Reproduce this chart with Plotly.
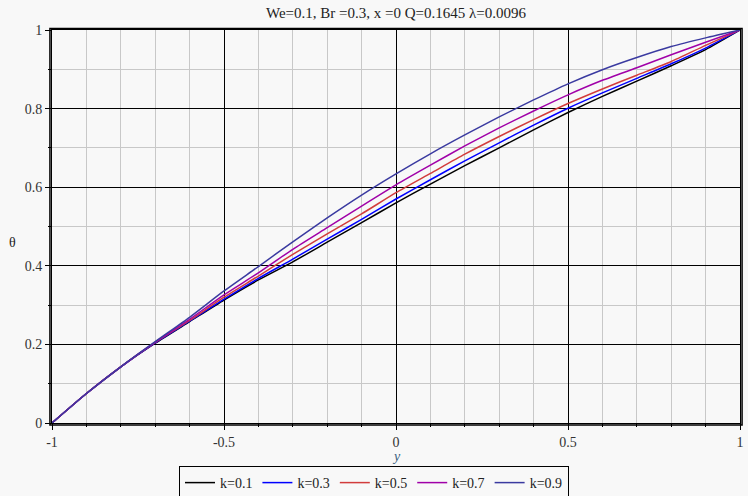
import plotly.graph_objects as go

y_vals = [-1.0, -0.9, -0.8, -0.7, -0.6, -0.5, -0.4, -0.3, -0.2, -0.1, 0.0,
          0.1, 0.2, 0.3, 0.4, 0.5, 0.6, 0.7, 0.8, 0.9, 1.0]
theta_k01 = [0.0, 0.075, 0.143, 0.203, 0.258, 0.313, 0.364, 0.410, 0.460, 0.510, 0.560,
             0.608, 0.655, 0.700, 0.746, 0.790, 0.831, 0.870, 0.909, 0.950, 1.0]
theta_k03 = [0.0, 0.075, 0.143, 0.204, 0.259, 0.315, 0.368, 0.417, 0.468, 0.518, 0.570,
             0.619, 0.667, 0.713, 0.758, 0.801, 0.840, 0.877, 0.914, 0.954, 1.0]
theta_k05 = [0.0, 0.075, 0.143, 0.205, 0.261, 0.320, 0.374, 0.429, 0.481, 0.532, 0.586,
             0.635, 0.684, 0.729, 0.772, 0.813, 0.850, 0.885, 0.920, 0.961, 1.0]
theta_k07 = [0.0, 0.075, 0.143, 0.206, 0.264, 0.326, 0.382, 0.442, 0.497, 0.552, 0.606,
             0.656, 0.705, 0.751, 0.794, 0.835, 0.872, 0.904, 0.937, 0.969, 1.0]
theta_k09 = [0.0, 0.075, 0.143, 0.207, 0.269, 0.336, 0.398, 0.461, 0.522, 0.580, 0.634,
             0.685, 0.733, 0.779, 0.822, 0.863, 0.899, 0.930, 0.958, 0.980, 1.0]

series_names = ["k=0.1", "k=0.3", "k=0.5", "k=0.7", "k=0.9"]
series_colors = ["#000000", "#0000ff", "#d23c3c", "#a000a8", "#3a3aa0"]
series_data = [theta_k01, theta_k03, theta_k05, theta_k07, theta_k09]

x_tickvals = [-1, -0.5, 0, 0.5, 1]
x_ticktext = ["-1", "-0.5", "0", "0.5", "1"]
y_tickvals = [0, 0.2, 0.4, 0.6, 0.8, 1]
y_ticktext = ["0", "0.2", "0.4", "0.6", "0.8", "1"]
x_minor = [round(-1 + 0.1 * i, 1) for i in range(21)]
y_minor = [round(0.1 * i, 1) for i in range(11)]

title_text = "We=0.1, Br =0.3, x =0 Q=0.1645 λ=0.0096"

fig = go.Figure()
for name, col, data in zip(series_names, series_colors, series_data):
    fig.add_trace(go.Scatter(x=y_vals, y=data, mode="lines", name=name,
                             line=dict(color=col, width=1.5, shape="spline", smoothing=0.6)))

serif = "Liberation Serif, Times New Roman, serif"
bg = "#f8f8f8"

fig.update_layout(
    width=748, height=496,
    margin=dict(l=52, r=8, t=30, b=73, autoexpand=False),
    paper_bgcolor=bg, plot_bgcolor=bg,
    font=dict(family=serif, size=14, color="#222"),
    showlegend=True,
    legend=dict(orientation="h", xref="container", yref="container",
                x=0.5, xanchor="center", y=1 - 466 / 496, yanchor="top",
                bordercolor="#000", borderwidth=1, bgcolor=bg,
                font=dict(family=serif, size=14, color="#222"),
                itemwidth=30, tracegroupgap=0),
    xaxis=dict(range=[-1, 1], tickmode="array", tickvals=x_tickvals, ticktext=x_ticktext,
               showgrid=True, gridcolor="#000", gridwidth=1,
               ticks="outside", ticklen=6, tickcolor="#000",
               showline=True, linecolor="#000", linewidth=1, mirror=True,
               zeroline=False, automargin=False,
               tickfont=dict(family=serif, size=14, color="#333"),
               minor=dict(tickmode="array", tickvals=x_minor, showgrid=True,
                          gridcolor="#c8c8c8", gridwidth=1,
                          ticks="outside", ticklen=3, tickcolor="#000")),
    yaxis=dict(range=[0, 1], tickmode="array", tickvals=y_tickvals, ticktext=y_ticktext,
               showgrid=True, gridcolor="#000", gridwidth=1,
               ticks="outside", ticklen=6, tickcolor="#000",
               showline=True, linecolor="#000", linewidth=1, mirror=True,
               zeroline=False, automargin=False,
               tickfont=dict(family=serif, size=14, color="#333"),
               minor=dict(tickmode="array", tickvals=y_minor, showgrid=True,
                          gridcolor="#c8c8c8", gridwidth=1,
                          ticks="outside", ticklen=3, tickcolor="#000")),
    shapes=[dict(type="rect", xref="paper", yref="paper",
                 x0=-0.003, x1=1.003, y0=-0.005, y1=1.004,
                 line=dict(color="#000", width=1.5), layer="above")],
    annotations=[
        dict(text=title_text, xref="paper", yref="paper", x=0.5, y=1.0433,
             xanchor="center", yanchor="middle", showarrow=False,
             font=dict(family=serif, size=15, color="#222")),
        dict(text="<i>y</i>", xref="paper", yref="paper", x=0.5, y=-0.085,
             xanchor="center", yanchor="middle", showarrow=False,
             font=dict(family=serif, size=14, color="#3a5f80")),
        dict(text="θ", xref="paper", yref="paper", x=-0.058, y=0.46,
             xanchor="center", yanchor="middle", showarrow=False,
             font=dict(family=serif, size=14, color="#222")),
    ],
)

fig.write_html("out.html", config={"displayModeBar": False},
               post_script="document.body.style.margin='0';document.body.style.padding='0';")
